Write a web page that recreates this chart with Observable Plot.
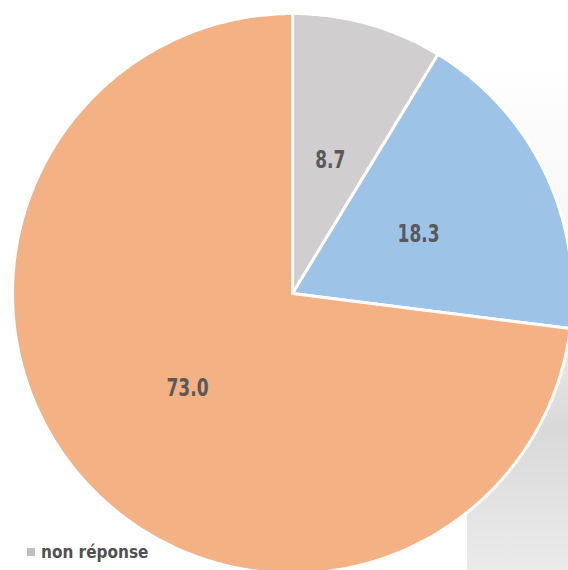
<!DOCTYPE html>
<html>
<head>
<meta charset="utf-8">
<script src="https://cdn.jsdelivr.net/npm/d3@7"></script>
<script src="https://cdn.jsdelivr.net/npm/@observablehq/plot@0.6"></script>
<style>
  html, body { margin: 0; padding: 0; background: #fff; }
  #wrap { position: relative; width: 568px; height: 570px; overflow: hidden; }
  #shade { position: absolute; left: 467px; top: 60px; width: 101px; height: 510px;
    background: linear-gradient(to bottom, #ffffff 0%, #f4f4f4 43%, #d9d9d9 72%, #ebebeb 100%); }
  #chart { position: absolute; left: 0; top: 0; }
  #legend { position: absolute; left: 27px; top: 542px; font-family: "DejaVu Sans Condensed", sans-serif;
    font-stretch: condensed; font-weight: bold; font-size: 17px; color: #505050; display: flex; align-items: center; }
  #legend .sw { width: 8px; height: 8px; background: #bfbfbf; margin-right: 6px; }
</style>
</head>
<body>
<div id="wrap">
  <div id="shade"></div>
  <div id="chart"></div>
  <div id="legend"><span class="sw"></span><span id="legtext">non réponse</span></div>
</div>
<script>
const categories = ["non réponse", "oui", "non"];
const values = [8.7, 18.3, 73.0];
const labels = ["8.7", "18.3", "73.0"];
const colors = ["#d0cece", "#9dc3e6", "#f4b183"];

const W = 568, H = 570;
const cx = 292, cy = 293, R = 280;

// pie angles (clockwise from 12 o'clock)
const total = d3.sum(values);
let acc = 0;
const slices = values.map((v, i) => {
  const a0 = acc / total * 2 * Math.PI;
  acc += v;
  const a1 = acc / total * 2 * Math.PI;
  return {cat: categories[i], a0, a1, v, label: labels[i], color: colors[i]};
});

// polygon points along each slice (unit circle coordinates)
const pts = [];
for (const s of slices) {
  pts.push({cat: s.cat, x: 0, y: 0});
  const n = Math.max(2, Math.ceil((s.a1 - s.a0) / 0.01));
  for (let k = 0; k <= n; k++) {
    const a = s.a0 + (s.a1 - s.a0) * k / n;
    pts.push({cat: s.cat, x: Math.sin(a), y: Math.cos(a)});
  }
  pts.push({cat: s.cat, x: 0, y: 0});
}

// label positions at half radius on the slice bisector
const labelPos = slices.map((s) => {
  const a = (s.a0 + s.a1) / 2;
  return {x: Math.sin(a) * 0.5, y: Math.cos(a) * 0.5, label: s.label};
});

const plot = Plot.plot({
  width: W, height: H,
  margin: 0,
  style: {background: "transparent"},
  x: {domain: [-cx / R, (W - cx) / R], axis: null},
  y: {domain: [-(H - cy) / R, cy / R], axis: null},
  color: {domain: categories, range: colors},
  marks: [
    Plot.line(pts, {x: "x", y: "y", z: "cat", fill: "cat", stroke: "white", strokeWidth: 3, strokeLinejoin: "round", curve: "linear"}),
    Plot.text(labelPos, {x: "x", y: "y", text: "label", fill: "#595959", fontSize: 24, fontWeight: "bold", dy: 2,
      fontFamily: "'DejaVu Sans Condensed', sans-serif", className: "pielab"})
  ]
});
document.getElementById("chart").appendChild(plot);
// narrow the labels to mimic the condensed face of the original
plot.querySelectorAll(".pielab text").forEach((t) => {
  const n = t.textContent.length;
  t.setAttribute("textLength", n <= 3 ? 30 : 42);
  t.setAttribute("lengthAdjust", "spacingAndGlyphs");
});
</script>
</body>
</html>
